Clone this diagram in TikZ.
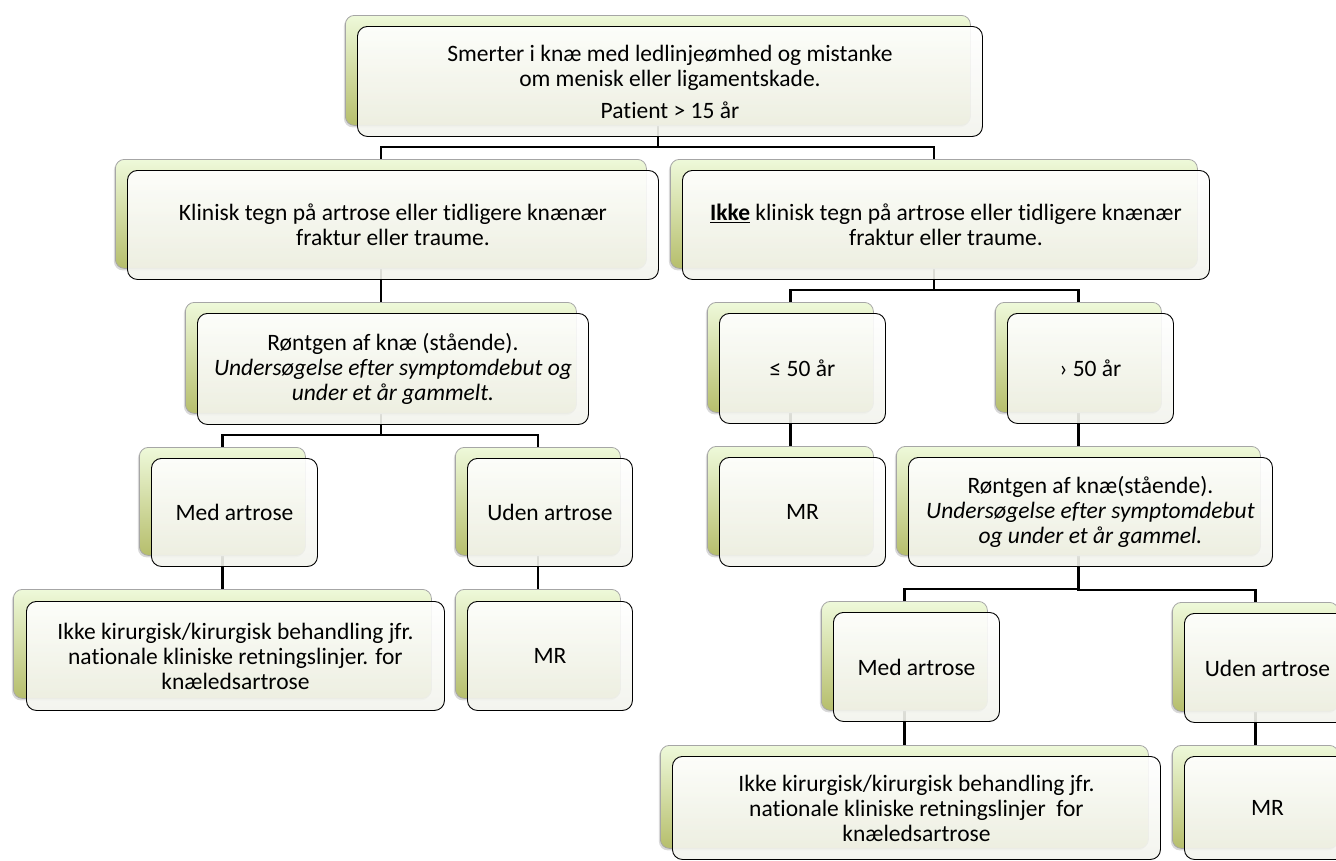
\documentclass[tikz,border=0pt]{standalone}
\usepackage{fontspec}
\setmainfont{Carlito}[Ligatures=NoCommon]
\usetikzlibrary{shadows}
\pgfdeclarelayer{bg}
\pgfsetlayers{bg,main}
\definecolor{leafTop}{RGB}{238,249,218}
\definecolor{leafMid}{RGB}{222,243,178}
\definecolor{leafBot}{RGB}{182,190,108}
\definecolor{paperBot}{RGB}{242,243,236}

\begin{document}
\begin{tikzpicture}[x=1pt,y=-1pt,
    boxsize/.style 2 args={minimum width=#1pt,minimum height=#2pt},
    backbox/.style={rectangle,rounded corners=9pt,draw=gray!70,line width=0.8pt,
        top color=leafTop,middle color=leafMid,bottom color=leafBot,
        drop shadow={shadow xshift=-1.5pt,shadow yshift=-2pt,opacity=0.3},
        anchor=north west,inner sep=0pt},
    frontbox/.style={rectangle,rounded corners=10pt,draw=black,line width=0.9pt,
        top color=white,bottom color=paperBot,fill opacity=0.9,text opacity=1,
        anchor=north west,align=center,inner sep=4pt,
        font=\fontsize{23.5}{25}\selectfont},
    link/.style={line width=2.5pt,black}]

    \useasboundingbox (0,0) rectangle (1336,860);

    %%%%%%%%%%%%%%%%%%% Top %%%%%%%%%%%%%%%%%%%%%%%%%%%%%%%
    \node [backbox,boxsize={625}{110}] (top-b) at (345,15) {};
    \node [frontbox,boxsize={625}{110}] (top) at ([shift={(12,11)}]top-b.north west)
        {Smerter i knæ med ledlinjeømhed og mistanke\\ om menisk eller ligamentskade.\\[7pt] Patient > 15 år};

    %%%%%%%%%%%%%%%%%%% Left branch %%%%%%%%%%%%%%%%%%%%%%%
    \node [backbox,boxsize={531}{109}] (klin-b) at (115,159) {};
    \node [frontbox,boxsize={531}{109}] (klin) at ([shift={(12,11)}]klin-b.north west)
        {Klinisk tegn på artrose eller tidligere knænær\\ fraktur eller traume.};

    \node [backbox,boxsize={391}{111}] (rtgL-b) at (185,302) {};
    \node [frontbox,boxsize={391}{111}] (rtgL) at ([shift={(12,11)}]rtgL-b.north west)
        {Røntgen af knæ (stående).\\ \textit{Undersøgelse efter symptomdebut og}\\ \textit{under et år gammelt.}};

    \node [backbox,boxsize={166}{108}] (medL-b) at (139,447) {};
    \node [frontbox,boxsize={166}{108}] (medL) at ([shift={(12,11)}]medL-b.north west) {Med artrose};

    \node [backbox,boxsize={165}{108}] (udenL-b) at (455,447) {};
    \node [frontbox,boxsize={165}{108}] (udenL) at ([shift={(12,11)}]udenL-b.north west) {Uden artrose};

    \node [backbox,boxsize={418}{109}] (ikkeL-b) at (13,589) {};
    \node [frontbox,boxsize={418}{109}] (ikkeL) at ([shift={(13,12)}]ikkeL-b.north west)
        {Ikke kirurgisk/kirurgisk behandling jfr.\\ nationale kliniske retningslinjer. for\\ knæledsartrose};

    \node [backbox,boxsize={165}{109}] (mrL-b) at (455,589) {};
    \node [frontbox,boxsize={165}{109}] (mrL) at ([shift={(12,12)}]mrL-b.north west) {MR};

    %%%%%%%%%%%%%%%%%%% Right branch %%%%%%%%%%%%%%%%%%%%%%
    \node [backbox,boxsize={527}{109}] (nikke-b) at (670,159) {};
    \node [frontbox,boxsize={527}{109}] (nikke) at ([shift={(12,11)}]nikke-b.north west)
        {\underline{\textbf{Ikke}} klinisk tegn på artrose eller tidligere knænær\\ fraktur eller traume.};

    \node [backbox,boxsize={166}{110}] (le50-b) at (707,302) {};
    \node [frontbox,boxsize={166}{110}] (le50) at ([shift={(12,11)}]le50-b.north west) {≤ 50 år};

    \node [backbox,boxsize={166}{110}] (gt50-b) at (995,302) {};
    \node [frontbox,boxsize={166}{110}] (gt50) at ([shift={(12,11)}]gt50-b.north west) {› 50 år};

    \node [backbox,boxsize={166}{109}] (mrA-b) at (707,446) {};
    \node [frontbox,boxsize={166}{109}] (mrA) at ([shift={(12,11)}]mrA-b.north west) {MR};

    \node [backbox,boxsize={364}{109}] (rtgR-b) at (896,446) {};
    \node [frontbox,boxsize={364}{109}] (rtgR) at ([shift={(12,11)}]rtgR-b.north west)
        {Røntgen af knæ(stående).\\ \textit{Undersøgelse efter symptomdebut}\\ \textit{og under et år gammel.}};

    \node [backbox,boxsize={166}{109}] (medR-b) at (821,601) {};
    \node [frontbox,boxsize={166}{109}] (medR) at ([shift={(12,11)}]medR-b.north west) {Med artrose};

    \node [backbox,boxsize={166}{109}] (udenR-b) at (1172,602) {};
    \node [frontbox,boxsize={166}{109}] (udenR) at ([shift={(12,11)}]udenR-b.north west) {Uden artrose};

    \node [backbox,boxsize={488}{103}] (ikkeR-b) at (660,745) {};
    \node [frontbox,boxsize={488}{103}] (ikkeR) at ([shift={(12,11)}]ikkeR-b.north west)
        {Ikke kirurgisk/kirurgisk behandling jfr.\\ nationale kliniske retningslinjer\ \ for\\ knæledsartrose};

    \node [backbox,boxsize={166}{103}] (mrR-b) at (1172,745) {};
    \node [frontbox,boxsize={166}{103}] (mrR) at ([shift={(12,11)}]mrR-b.north west) {MR};

    % Connectors, behind the boxes
    \begin{pgfonlayer}{bg}
    \foreach \a/\b in {top/klin,top/nikke,klin/rtgL,rtgL/medL,rtgL/udenL,medL/ikkeL,udenL/mrL,
                       nikke/le50,nikke/gt50,le50/mrA,gt50/rtgR,rtgR/medR,rtgR/udenR,medR/ikkeR,udenR/mrR}
        \draw [link] (\a-b.south) |- ([yshift=12pt]\b-b.north) -- (\b-b.north);
    \end{pgfonlayer}

\end{tikzpicture}
\end{document}
